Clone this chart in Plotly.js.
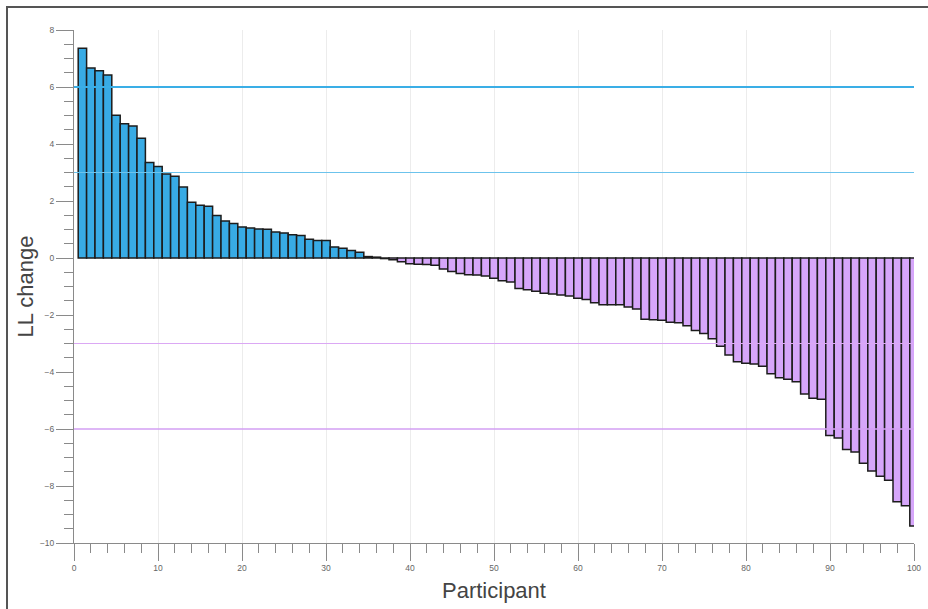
<!DOCTYPE html>
<html>
<head>
<meta charset="utf-8">
<script src="https://cdn.plot.ly/plotly-3.0.1.min.js"></script>
<style>
  html, body { margin: 0; padding: 0; background: #ffffff; }
  #frame { position: absolute; left: 6px; top: 6px; width: 940px; height: 620px;
           border-left: 2px solid #555; border-top: 2px solid #555; }
  #chart { position: absolute; left: 0; top: 0; width: 928px; height: 609px; }
</style>
</head>
<body>
<div id="frame"></div>
<div id="chart"></div>
<script>
// Participant index (x) and change in log-likelihood (y)
const participants = [
  1,2,3,4,5,6,7,8,9,10,11,12,13,14,15,16,17,18,19,20,
  21,22,23,24,25,26,27,28,29,30,31,32,33,34,35,36,37,38,39,40,
  41,42,43,44,45,46,47,48,49,50,51,52,53,54,55,56,57,58,59,60,
  61,62,63,64,65,66,67,68,69,70,71,72,73,74,75,76,77,78,79,80,
  81,82,83,84,85,86,87,88,89,90,91,92,93,94,95,96,97,98,99,100
];
const llChange = [
  7.36, 6.67, 6.57, 6.42, 5.01, 4.71, 4.63, 4.20, 3.35, 3.21,
  2.95, 2.87, 2.49, 1.96, 1.85, 1.82, 1.49, 1.30, 1.21, 1.09,
  1.05, 1.02, 1.01, 0.91, 0.88, 0.82, 0.79, 0.66, 0.61, 0.61,
  0.39, 0.34, 0.26, 0.20, 0.05, 0.03, -0.02, -0.06, -0.13, -0.20,
  -0.22, -0.23, -0.25, -0.39, -0.47, -0.54, -0.59, -0.60, -0.63, -0.71,
  -0.80, -0.84, -1.07, -1.11, -1.17, -1.24, -1.26, -1.30, -1.33, -1.41,
  -1.46, -1.57, -1.64, -1.64, -1.64, -1.72, -1.79, -2.15, -2.17, -2.18,
  -2.25, -2.27, -2.38, -2.54, -2.65, -2.83, -3.10, -3.40, -3.64, -3.69,
  -3.72, -3.80, -4.06, -4.20, -4.25, -4.34, -4.77, -4.92, -4.96, -6.23,
  -6.32, -6.72, -6.81, -7.20, -7.47, -7.66, -7.80, -8.55, -8.69, -9.40
];
// Threshold reference lines
const refLevels = [6, 3, -3, -6];
const refColors = ['#3aaee6', '#6cc3ec', '#dba8f4', '#d39ff3'];
const refWidths = [2, 1, 1, 1.5];
const xRange = [0, 100];
const yRange = [-10, 8];

const BLUE = '#38abe5';
const PURPLE = '#d6a6fa';

const barColors = llChange.map(v => v >= 0 ? BLUE : PURPLE);

const traces = [{
  type: 'bar',
  x: participants,
  y: llChange,
  width: 1,
  marker: { color: barColors, line: { color: '#1c1c1c', width: 1.5 } },
  hoverinfo: 'x+y',
  showlegend: false
}];

refLevels.forEach((lv, i) => {
  traces.push({
    type: 'scatter', mode: 'lines',
    x: xRange, y: [lv, lv],
    line: { color: refColors[i], width: refWidths[i] },
    hoverinfo: 'skip', showlegend: false, cliponaxis: true
  });
});

const tickFont = { family: 'Liberation Sans, Arial, sans-serif', size: 8.5, color: '#666666' };
const titleFont = { family: 'Liberation Sans, Arial, sans-serif', size: 22, color: '#444444' };

const layout = {
  width: 928, height: 609,
  margin: { l: 74, r: 14, t: 30, b: 66 },
  paper_bgcolor: 'rgba(0,0,0,0)',
  plot_bgcolor: '#ffffff',
  bargap: 0,
  xaxis: {
    range: xRange, autorange: false,
    dtick: 10, tick0: 0,
    ticks: 'outside', ticklen: 17, tickwidth: 1, tickcolor: '#8a8a8a',
    showline: true, linecolor: '#8a8a8a', linewidth: 1,
    showgrid: true, gridcolor: '#ececec', gridwidth: 1,
    zeroline: false,
    tickfont: tickFont,
    minor: { dtick: 2, ticks: 'outside', ticklen: 9, tickwidth: 1, tickcolor: '#8a8a8a', showgrid: false },
    title: { text: 'Participant', font: titleFont, standoff: 10 }
  },
  yaxis: {
    range: yRange, autorange: false,
    dtick: 2, tick0: 0,
    ticks: 'outside', ticklen: 17, tickwidth: 1, tickcolor: '#8a8a8a',
    showline: true, linecolor: '#8a8a8a', linewidth: 1,
    showgrid: false, zeroline: false,
    tickfont: tickFont,
    minor: { dtick: 0.5, ticks: 'outside', ticklen: 9, tickwidth: 1, tickcolor: '#8a8a8a', showgrid: false },
    title: { text: 'LL change', font: titleFont, standoff: 0 }
  }
};

Plotly.newPlot('chart', traces, layout, { displayModeBar: false, staticPlot: true });
</script>
</body>
</html>
